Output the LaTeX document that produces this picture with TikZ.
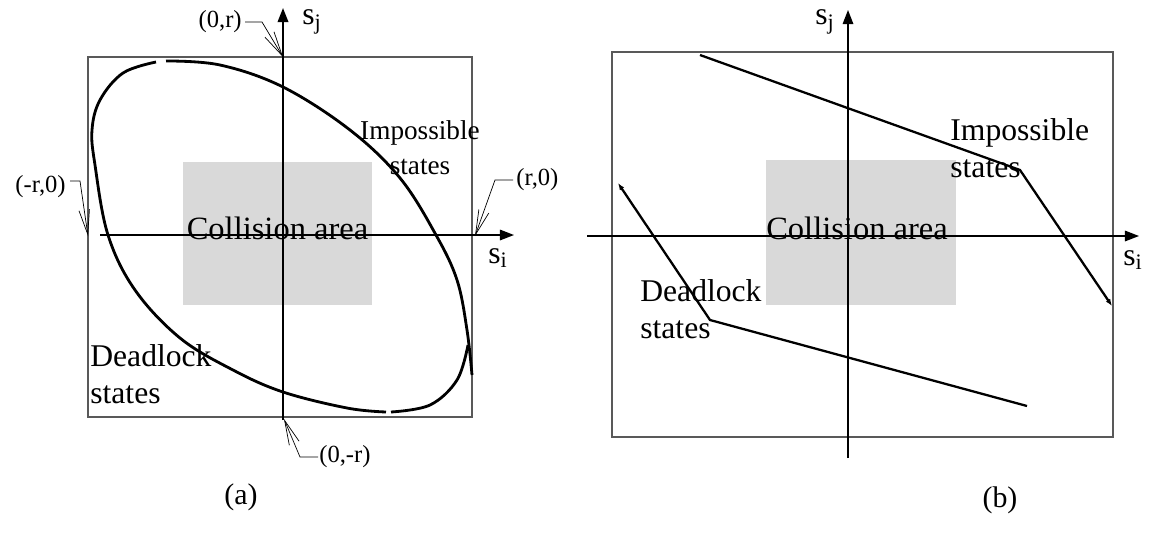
\documentclass[tikz,border=0pt]{standalone}
\usepackage{fontspec}
\setmainfont{Liberation Serif}
\usetikzlibrary{arrows.meta}
\tikzset{
  frame/.style={draw=black!65, line width=0.6pt},
  axis/.style={line width=0.8pt, -{Triangle[length=8pt,width=6pt]}},
  curve/.style={line width=1.6pt},
  area/.style={fill=black!15, inner sep=0pt},
  areatext/.style={inner sep=0pt, font=\fontsize{18.5}{20}\selectfont},
  region/.style={align=left, inner sep=0pt, font=\fontsize{18}{21}\selectfont},
  pt/.style={inner sep=0pt, font=\fontsize{14}{16}\selectfont},
  leader/.style={line width=0.4pt, -{Straight Barb[length=14pt,width=6pt]}},
  axlbl/.style={inner sep=0pt, font=\fontsize{18}{20}\selectfont},
  caption/.style={inner sep=0pt, font=\fontsize{17}{20}\selectfont}
}
\begin{document}
\begin{tikzpicture}[x=0.02cm, y=-0.02cm]
\useasboundingbox (0,0) rectangle (1149,538);
% ---- (a) ----
\draw[frame] (88,57) rectangle (472,417);
\node[area, minimum width=3.78cm, minimum height=2.86cm] (collA) at (277.5,233.5) {};
\node[areatext] (collAt) at (277.5,228) {Collision area};
\coordinate (aS) at (283,420);
\coordinate (aN) at (283,8);
\coordinate (aW) at (100,235);
\coordinate (aE) at (514,235);
\draw[axis, line width=1pt] (aS) -- (aN);
\draw[axis] (aW) -- (aE);
\node[axlbl] (sjA) at (312,22) {s\textsubscript{j}};
\node[axlbl] (siA) at (498,258) {s\textsubscript{i}};
% the two arcs and the small corner piece
\draw[curve] plot[smooth, tension=0.6] coordinates {(166,61) (220,65) (283,87) (350,130) (400,178) (436,235) (457,280) (467,330) (472,375)};
\draw[curve] plot[smooth, tension=0.6] coordinates {(156,62) (123,73) (100,100) (92,130) (95,165) (108,235) (135,290) (180,338) (233,370) (283,392) (347,408) (386,412)};
\draw[curve] plot[smooth, tension=0.6] coordinates {(391,412) (430,405) (457,380) (468,345)};
% callouts
\coordinate (pN) at (283,57);
\coordinate (pW) at (88,236);
\coordinate (pE) at (475,236);
\coordinate (pS) at (284,419);
\node[pt, anchor=east] (lN) at (242,22) {(0,r)};
\node[pt, anchor=east] (lW) at (66,187) {(-r,0)};
\node[pt, anchor=west] (lE) at (516,180) {(r,0)};
\node[pt, anchor=west] (lS) at (319,457) {(0,-r)};
\draw[leader] (lN.east) ++(3,0) -- ++(17,0) -- (pN);
\draw[leader] (lW.east) ++(4,-6) -- ++(10,0) -- (pW);
\draw[leader] (lE.west) ++(-3,0) -- ++(-18,0) -- (pE);
\draw[leader] (lS.west) ++(-1,0) -- ++(-18,0) -- (pS);
\node[region, align=center, font=\fontsize{15.5}{20}\selectfont] (impA) at (420,148) {Impossible\\states};
\node[region, anchor=west] (dlA) at (90,374) {Deadlock\\states};
\node[caption] (capA) at (241,497) {(a)};
% ---- (b) ----
\draw[frame] (612,52) rectangle (1113,437);
\node[area, minimum width=3.8cm, minimum height=2.9cm] (collB) at (861,232.5) {};
\node[areatext] (collBt) at (857,228) {Collision area};
\coordinate (bS) at (848,458);
\coordinate (bN) at (848,10);
\coordinate (bW) at (587,236);
\coordinate (bE) at (1139,236);
\draw[axis] (bS) -- (bN);
\draw[axis] (bW) -- (bE);
\node[axlbl] (sjB) at (825,22) {s\textsubscript{j}};
\node[axlbl] (siB) at (1133,260) {s\textsubscript{i}};
\coordinate (u1) at (700,55);
\coordinate (u2) at (1020,170);
\coordinate (u3) at (1112,306);
\coordinate (d1) at (618,183);
\coordinate (d2) at (710,320);
\coordinate (d3) at (1027,406);
\draw[curve, line width=1.3pt, -{Latex[length=4pt,width=3pt]}] (u1) -- (u2) -- (u3);
\draw[curve, line width=1.3pt, {Latex[length=4pt,width=3pt]}-] (d1) -- (d2) -- (d3);
\node[region, anchor=north west] (impB) at (950,118) {Impossible\\states};
\node[region, anchor=north west] (dlB) at (640,279) {Deadlock\\states};
\node[caption] (capB) at (1000,500) {(b)};
\end{tikzpicture}
\end{document}
